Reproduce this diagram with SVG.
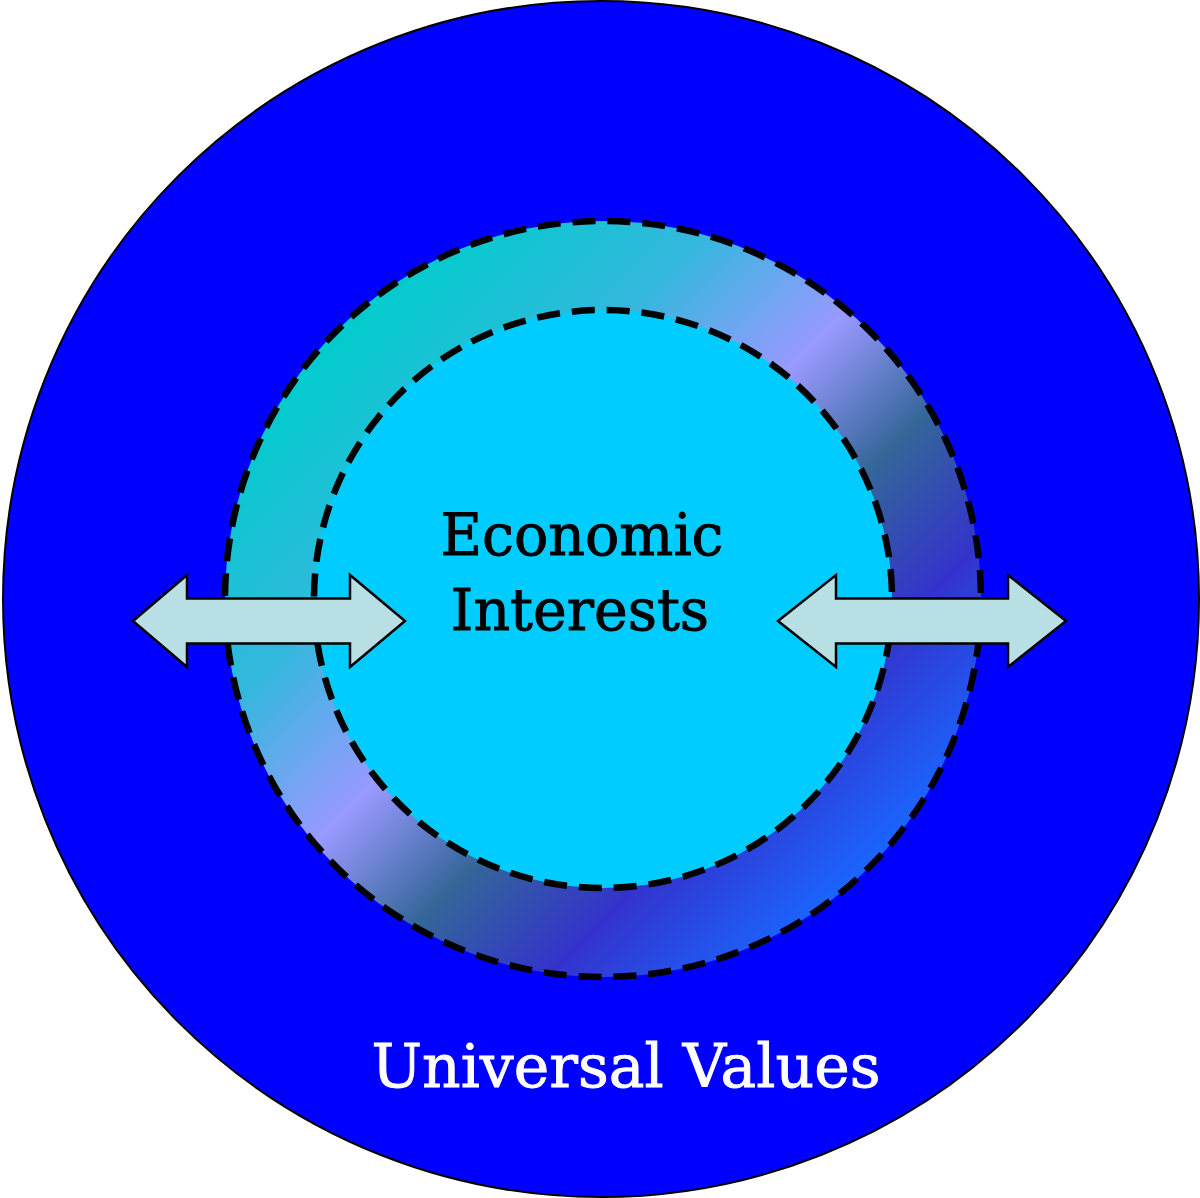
<svg xmlns="http://www.w3.org/2000/svg" width="1200" height="1198" viewBox="0 0 1200 1198">
  <defs>
    <!-- diagonal blend across the band between the two dashed rings -->
    <linearGradient id="bandFill" gradientUnits="userSpaceOnUse" x1="336" y1="331" x2="871" y2="866">
      <stop offset="0" stop-color="#00cccc"/>
      <stop offset="0.25" stop-color="#33b8dd"/>
      <stop offset="0.46" stop-color="#9999ff"/>
      <stop offset="0.63" stop-color="#336699"/>
      <stop offset="0.8" stop-color="#3333cc"/>
      <stop offset="1" stop-color="#1a66ff"/>
    </linearGradient>
    <style>
      .ring { fill: none; stroke: #000; stroke-width: 6.5; stroke-dasharray: 23 12; }
      .arrow { fill: #b8e0e4; stroke: #000; stroke-width: 2.5; stroke-linejoin: miter; }
      .label { font-family: "DejaVu Serif", "Liberation Serif", serif; text-anchor: middle; stroke-width: 0.9; }
    </style>
  </defs>

  <g id="universal-values">
    <circle cx="601" cy="599" r="598" fill="#0000ff" stroke="#000" stroke-width="2"/>
    <text class="label" x="626" y="1087" font-size="60" fill="#ffffff" stroke="#ffffff">Universal Values</text>
  </g>

  <g id="band">
    <circle cx="603" cy="599" r="378" fill="url(#bandFill)"/>
    <circle class="ring" cx="603" cy="599" r="378"/>
  </g>

  <g id="economic-interests">
    <circle cx="603" cy="599" r="289" fill="#00ccff"/>
    <circle class="ring" cx="603" cy="599" r="289"/>
    <text class="label" x="582" y="555" font-size="57" fill="#000" stroke="#000">Economic</text>
    <text class="label" x="580" y="630" font-size="57" fill="#000" stroke="#000">Interests</text>
  </g>

  <g id="connectors">
    <polygon class="arrow" points="133,621 187,575 187,598.5 350,598.5 350,575 405,621 350,667 350,643.5 187,643.5 187,667"/>
    <polygon class="arrow" points="778,621 836,575 836,598.5 1008,598.5 1008,575 1066,621 1008,667 1008,643.5 836,643.5 836,667"/>
  </g>
</svg>
